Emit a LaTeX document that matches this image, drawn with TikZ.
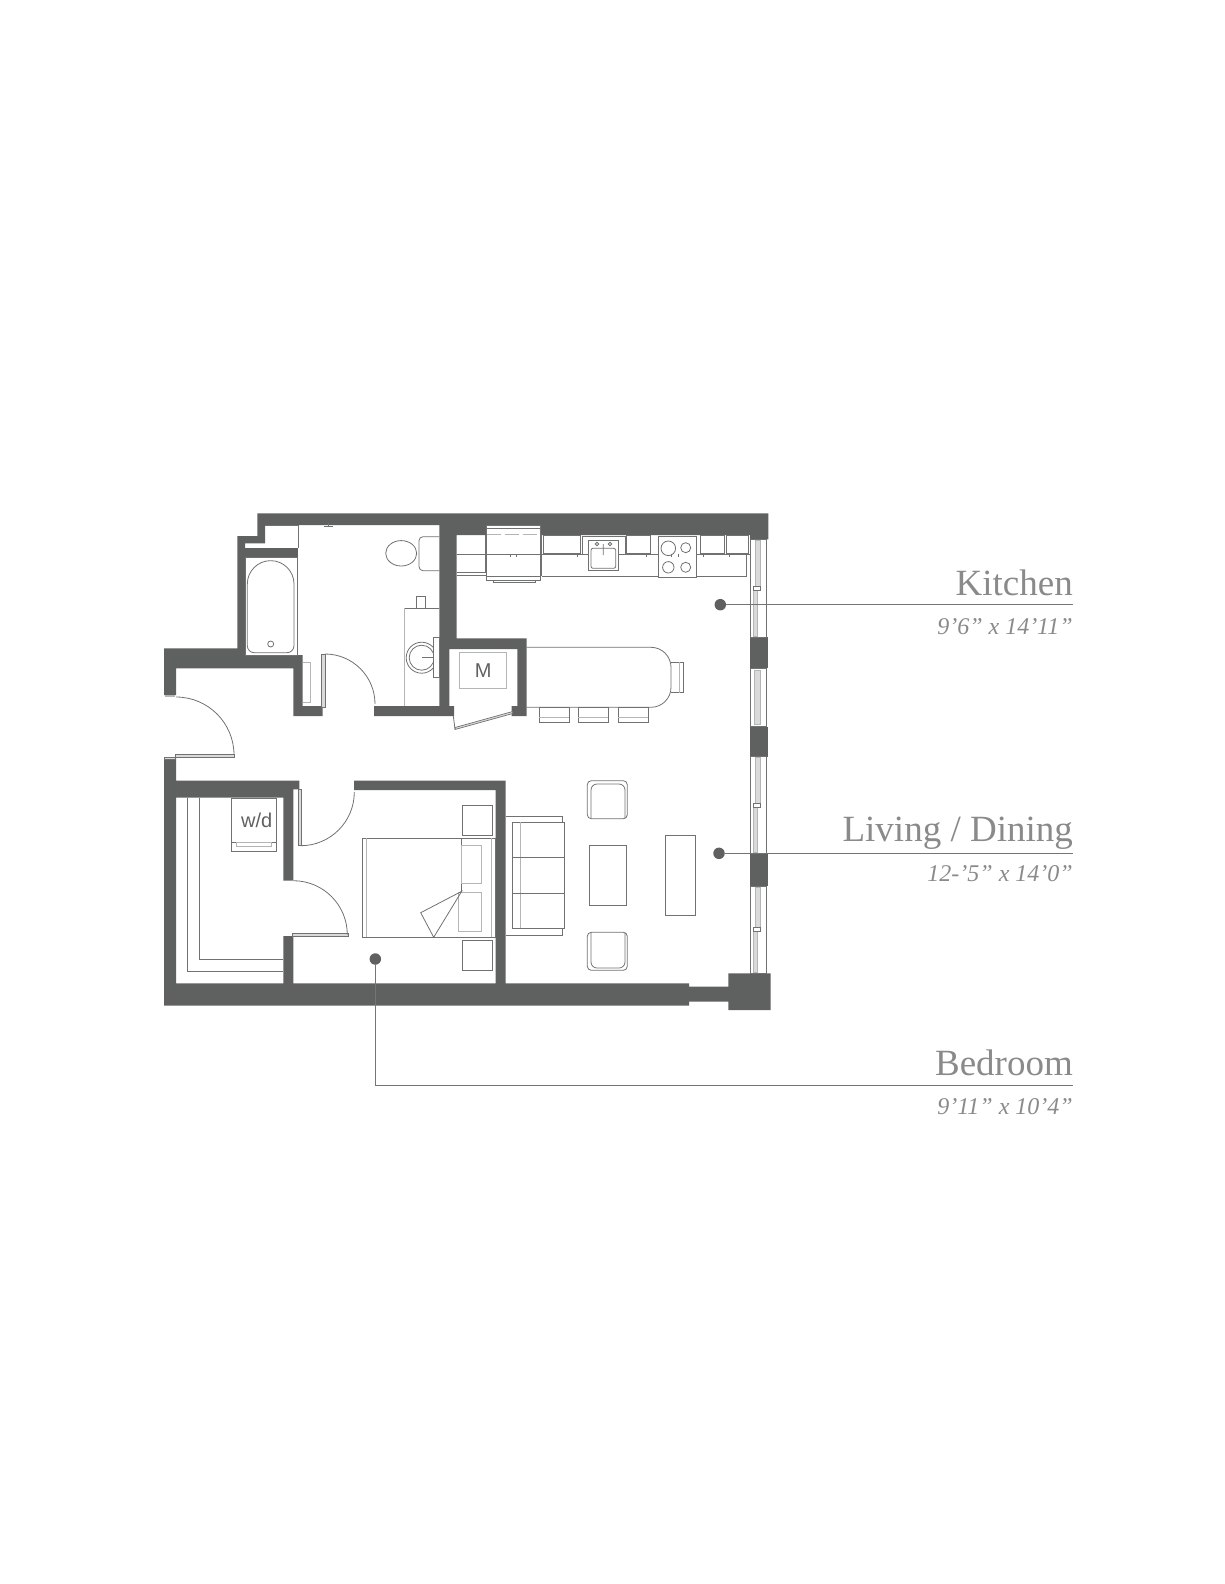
\documentclass[tikz,border=0pt]{standalone}
\usepackage{fontspec}
\setmainfont{Liberation Serif}
\newfontfamily\plansans{Liberation Sans}
\definecolor{wallgray}{HTML}{5F6160}
\definecolor{linegray}{HTML}{707271}
\definecolor{faintgray}{HTML}{B4B6B5}
\definecolor{textgray}{HTML}{8A8A8A}
\tikzset{
  wall/.style={fill=wallgray,draw=none},
  fixture/.style={draw=linegray,line width=0.8pt},
  faint/.style={draw=faintgray,line width=1pt},
  leaf/.style={draw=linegray,fill=faintgray!50,line width=0.7pt},
  leader/.style={draw=textgray!85!black,line width=1.2pt},
  spot/.style={circle,fill=wallgray,inner sep=0pt,minimum size=11.5pt},
  roomname/.style={anchor=base east,inner sep=0pt,text=textgray,font=\fontsize{37}{37}\selectfont},
  roomsize/.style={anchor=base east,inner sep=0pt,text=textgray,font=\fontsize{24}{24}\selectfont\itshape},
  tag/.style={inner sep=0pt,text=wallgray,font=\plansans\fontsize{20}{20}\selectfont}
}
\begin{document}
\begin{tikzpicture}[x=1pt,y=-1pt]
    \useasboundingbox (0,0) rectangle (1225,1584);

    \fill[wall] (257.3,513.3) -- (768.3,513.3) -- (768.3,539.3) -- (750,539.3) -- (750,535) -- (540.7,535)
        -- (540.7,525) -- (486.7,525) -- (486.7,535) -- (456.5,535) -- (456.5,638.3) -- (526.7,638.3)
        -- (526.7,716) -- (511.7,716) -- (511.7,706) -- (517.3,706) -- (517.3,649) -- (449.3,649)
        -- (449.3,706) -- (454,706) -- (454,716) -- (374,716) -- (374,706) -- (439.3,706) -- (439.3,525)
        -- (265,525) -- (265,543.3) -- (245,543.3) -- (245,648.3) -- (164,648.3) -- (164,695) -- (176,695)
        -- (176,668.3) -- (293.3,668.3) -- (293.3,716) -- (322.7,716) -- (322.7,706) -- (302.7,706)
        -- (302.7,655) -- (245,655) -- (245,648.3) -- (237.3,648.3) -- (237.3,536) -- (257.3,536) -- cycle;
    \fill[wall] (245,547.7) rectangle (298.3,557.3);
    \fill[wall] (750,637.3) rectangle (768,668.3);
    \fill[wall] (750,726.7) rectangle (768,756.7);
    \fill[wall] (750,853.3) rectangle (768,886);
    \fill[wall] (164,757.3) -- (176,757.3) -- (176,780.7) -- (299.3,780.7) -- (299.3,789.3) -- (293.3,789.3)
        -- (293.3,880.7) -- (283.3,880.7) -- (283.3,797.7) -- (176,797.7) -- (176,983.3) -- (283.3,983.3)
        -- (283.3,936) -- (293.3,936) -- (293.3,983.3) -- (495.7,983.3) -- (495.7,790) -- (354,790)
        -- (354,780.7) -- (505.5,780.7) -- (505.5,983.3) -- (689,983.3) -- (689,986.7) -- (728.3,986.7)
        -- (728.3,973.3) -- (770.7,973.3) -- (770.7,1010) -- (728.3,1010) -- (728.3,1001.7) -- (689,1001.7)
        -- (689,1005.7) -- (164,1005.7) -- cycle;

    \foreach \ya/\yb in {539.3/637.3,756.7/853.3,886/973.3}{
        \draw[fixture] (750,\ya) rectangle (766.7,\yb);
        \draw[faint,fill=faintgray!50] (755.5,\ya+1) rectangle (760.5,{(\ya+\yb)/2});
        \draw[faint,fill=faintgray!50] (753.5,{(\ya+\yb)/2}) rectangle (757.5,\yb-1);
        \draw[fixture,line width=0.5pt,fill=white] (753.5,{(\ya+\yb)/2-2}) rectangle (760.5,{(\ya+\yb)/2+2});
    }
    \draw[fixture] (750,668.3) rectangle (766.7,726.7);
    \draw[faint,fill=faintgray!50] (754,670) rectangle (760.5,724);

    % entry door
    \draw[fixture] (176,697) arc[start angle=-90,end angle=0,radius=58];
    \draw[leaf] (175,754) rectangle (234.3,757.3);
    \draw[leaf] (164.5,757.3) rectangle (175,759.5);
    \fill[faintgray] (164.5,695) rectangle (175,697.3);

    % bath
    \draw[leaf] (321.7,654) rectangle (325,707);
    \draw[fixture] (325,654) arc[start angle=-90,end angle=0,radius=50];
    \draw[faint] (302.7,662.3) -- (310,662.3) -- (310,702.7) -- (302.7,702.7);
    \draw[fixture] (265,525) -- (298,525) -- (298,547.7);
    \draw[fixture] (245,557.3) rectangle (297.3,655);
    \draw[fixture] (247.3,645.7) -- (247.3,584) arc[start angle=180,end angle=360,radius=23.35] -- (294,645.7)
        arc[start angle=0,end angle=90,radius=7] -- (254.3,652.7) arc[start angle=90,end angle=180,radius=7] -- cycle;
    \draw[fixture] (270.7,644) circle[radius=3];
    \draw[fixture] (324,526) -- (333,526) (328.3,526) -- (328.3,523);
    \draw[fixture,rounded corners=4pt] (439.3,536.7) -- (419,536.7) -- (419,570.7) -- (439.3,570.7);
    \draw[fixture] (401.2,553.3) ellipse[x radius=15.5,y radius=12.7];
    \draw[fixture] (439.3,608.3) -- (404,608.3);
    \draw[faint] (404,608.3) -- (404,706);
    \draw[fixture] (416.7,608.3) -- (416.7,596.7) -- (425,596.7) -- (425,608.3);
    \draw[fixture] (421.7,657.7) circle[radius=15.5];
    \draw[fixture] (421.7,657.7) circle[radius=12.5];
    \draw[fixture] (422,657.7) -- (433.3,657.7);
    \draw[fixture,fill=white] (433.3,637.7) rectangle (439.3,677.3);

    % kitchen
    \draw[fixture] (456.5,572.7) -- (485.7,572.7) -- (485.7,535);
    \draw[fixture] (456.5,575) -- (486.7,575);
    \draw[fixture] (486.7,525) rectangle (540.7,580);
    \draw[fixture] (486.7,528.3) -- (540.7,528.3);
    \draw[faint,dashed,dash pattern=on 14pt off 4pt] (486.7,534.3) -- (540.7,534.3);
    \draw[fixture] (486.7,576) -- (540.7,576);
    \draw[fixture] (493,580) rectangle (535.7,582.3);
    \draw[fixture] (456.5,554) -- (750,554);
    \draw[fixture] (541.7,576) -- (658.3,576);
    \draw[fixture] (541.7,535) -- (541.7,576);
    \draw[fixture] (697,576) -- (746,576) -- (746,554);
    \draw[fixture] (543,535) rectangle (580,553.3);
    \draw[fixture] (582,536.7) rectangle (625,554);
    \draw[fixture,fill=white] (588.3,540.7) rectangle (618.3,570.7);
    \draw[fixture,rounded corners=2pt] (591,548.3) rectangle (615.7,568.3);
    \draw[fixture] (603.3,555) -- (603.3,544) (597,544) circle[radius=1.7] (610,544) circle[radius=1.7];
    \draw[fixture] (626.7,535) rectangle (650,553.3);
    \draw[fixture,fill=white] (658.3,536) rectangle (696.7,577.3);
    \draw[fixture] (668.3,548.3) circle[radius=7.3];
    \draw[fixture] (685.7,547.7) circle[radius=5];
    \draw[fixture] (668.3,567.3) circle[radius=5.7];
    \draw[fixture] (685.7,567.3) circle[radius=5];
    \draw[fixture] (700.7,535) rectangle (724,553.3);
    \draw[fixture] (726,535) rectangle (748.3,553.3);
    \foreach \xa in {510,516.7,577.7,646.7,671.7,678.3,703.3,729}{
        \draw[fixture] (\xa,554) -- (\xa,557);
    }

    % island
    \draw[fixture] (526.7,647.3) -- (651,647.3) arc[start angle=-90,end angle=0,radius=20] -- (671,687.3)
        arc[start angle=0,end angle=90,radius=20] -- (526.7,707.3);
    \draw[fixture] (671,662.3) -- (683.3,662.3) -- (683.3,692.7) -- (671,692.7);
    \draw[faint] (679,662.3) -- (679,692.7);
    \foreach \xa in {539,578.3,618.3}{
        \draw[fixture] (\xa,707.3) rectangle (\xa+30,722.3);
        \draw[faint] (\xa,717.7) -- (\xa+30,717.7);
    }

    % mechanical closet
    \draw[faint] (459.3,652.7) rectangle (506.7,688.3);
    \node[tag] (mech) at (483.3,670.7) {M};
    \draw[leaf] (455,727.5) -- (512.7,711.5) -- (512.7,713.5) -- (455,729.5) -- cycle;
    \draw[fixture] (453.3,716) -- (455,729);

    % closet
    \draw[fixture] (187.3,797.7) -- (187.3,971.7) -- (283.3,971.7);
    \draw[fixture] (199.3,797.7) -- (199.3,959.3) -- (283.3,959.3);
    \draw[fixture] (231.7,798.3) rectangle (276,851);
    \draw[fixture] (231.7,842.3) -- (276,842.3);
    \draw[faint] (236,842.3) rectangle (271.7,846.7);
    \node[tag] (washer) at (256.7,820.7) {w/d};

    % bedroom
    \draw[leaf] (298.3,789.3) rectangle (301.7,845.7);
    \draw[fixture] (300.7,845.7) arc[start angle=90,end angle=0,radius=53.6];
    \draw[leaf] (292.3,933) rectangle (348.3,936.7);
    \draw[fixture] (293.3,880.7) arc[start angle=-90,end angle=0,radius=54];
    \draw[fixture] (462,805.3) rectangle (492,835.3);
    \draw[fixture] (462,940.7) rectangle (492,970.7);
    \draw[fixture] (362.7,838.3) rectangle (495.7,937.3);
    \draw[faint] (366.7,838.3) -- (366.7,937.3);
    \draw[faint] (491.7,838.3) -- (491.7,937.3);
    \draw[fixture] (461.7,838.3) -- (461.7,891.3);
    \draw[faint] (461.7,845) rectangle (481.7,883.3);
    \draw[faint] (458.3,892.7) rectangle (481.7,931.7);
    \draw[fixture] (461.7,891.3) -- (420.7,912.7) -- (433.7,937.3) -- cycle;

    % living
    \draw[fixture] (505.5,816) -- (562.7,816) -- (562.7,822.3);
    \draw[fixture] (505.5,935) -- (562.7,935) -- (562.7,928.3);
    \draw[fixture] (512.7,822.3) rectangle (564.3,928.3);
    \draw[faint] (520.7,822.3) -- (520.7,928.3);
    \draw[fixture] (512.7,857.7) -- (564.3,857.7);
    \draw[fixture] (512.7,893.3) -- (564.3,893.3);
    \draw[fixture,rounded corners=4pt] (587.3,780.7) rectangle (627.3,818.7);
    \draw[fixture,rounded corners=6pt] (591,818.7) -- (591,784) -- (625,784) -- (625,818.7);
    \draw[fixture,rounded corners=4pt] (587.3,932.3) rectangle (627.3,970.3);
    \draw[fixture,rounded corners=6pt] (591,932.3) -- (591,968) -- (625,968) -- (625,932.3);
    \draw[fixture] (589.3,845.7) rectangle (626,905.3);
    \draw[fixture] (665.3,835.7) rectangle (695.3,915.3);

    % labels
    \node[spot] (kitchen) at (720.3,604.7) {};
    \node[spot] (living) at (719,853.3) {};
    \node[spot] (bedroom) at (375.3,959) {};
    \coordinate (kitchenend) at (1073,604.7);
    \coordinate (livingend) at (1073,853.3);
    \coordinate (bedroomend) at (1073,1085.3);

    \draw[leader] (kitchen) -- (kitchenend);
    \draw[leader] (living) -- (livingend);
    \draw[leader] (bedroom) |- (bedroomend);

    \node[roomname] (kitchenname) at (1073,595) {Kitchen};
    \node[roomsize] (kitchensize) at (1073,634.5) {9’6” x 14’11”};
    \node[roomname] (livingname) at (1073,841.7) {Living / Dining};
    \node[roomsize] (livingsize) at (1073,881.5) {12-’5” x 14’0”};
    \node[roomname] (bedroomname) at (1073,1075) {Bedroom};
    \node[roomsize] (bedroomsize) at (1073,1114.5) {9’11” x 10’4”};
\end{tikzpicture}
\end{document}
